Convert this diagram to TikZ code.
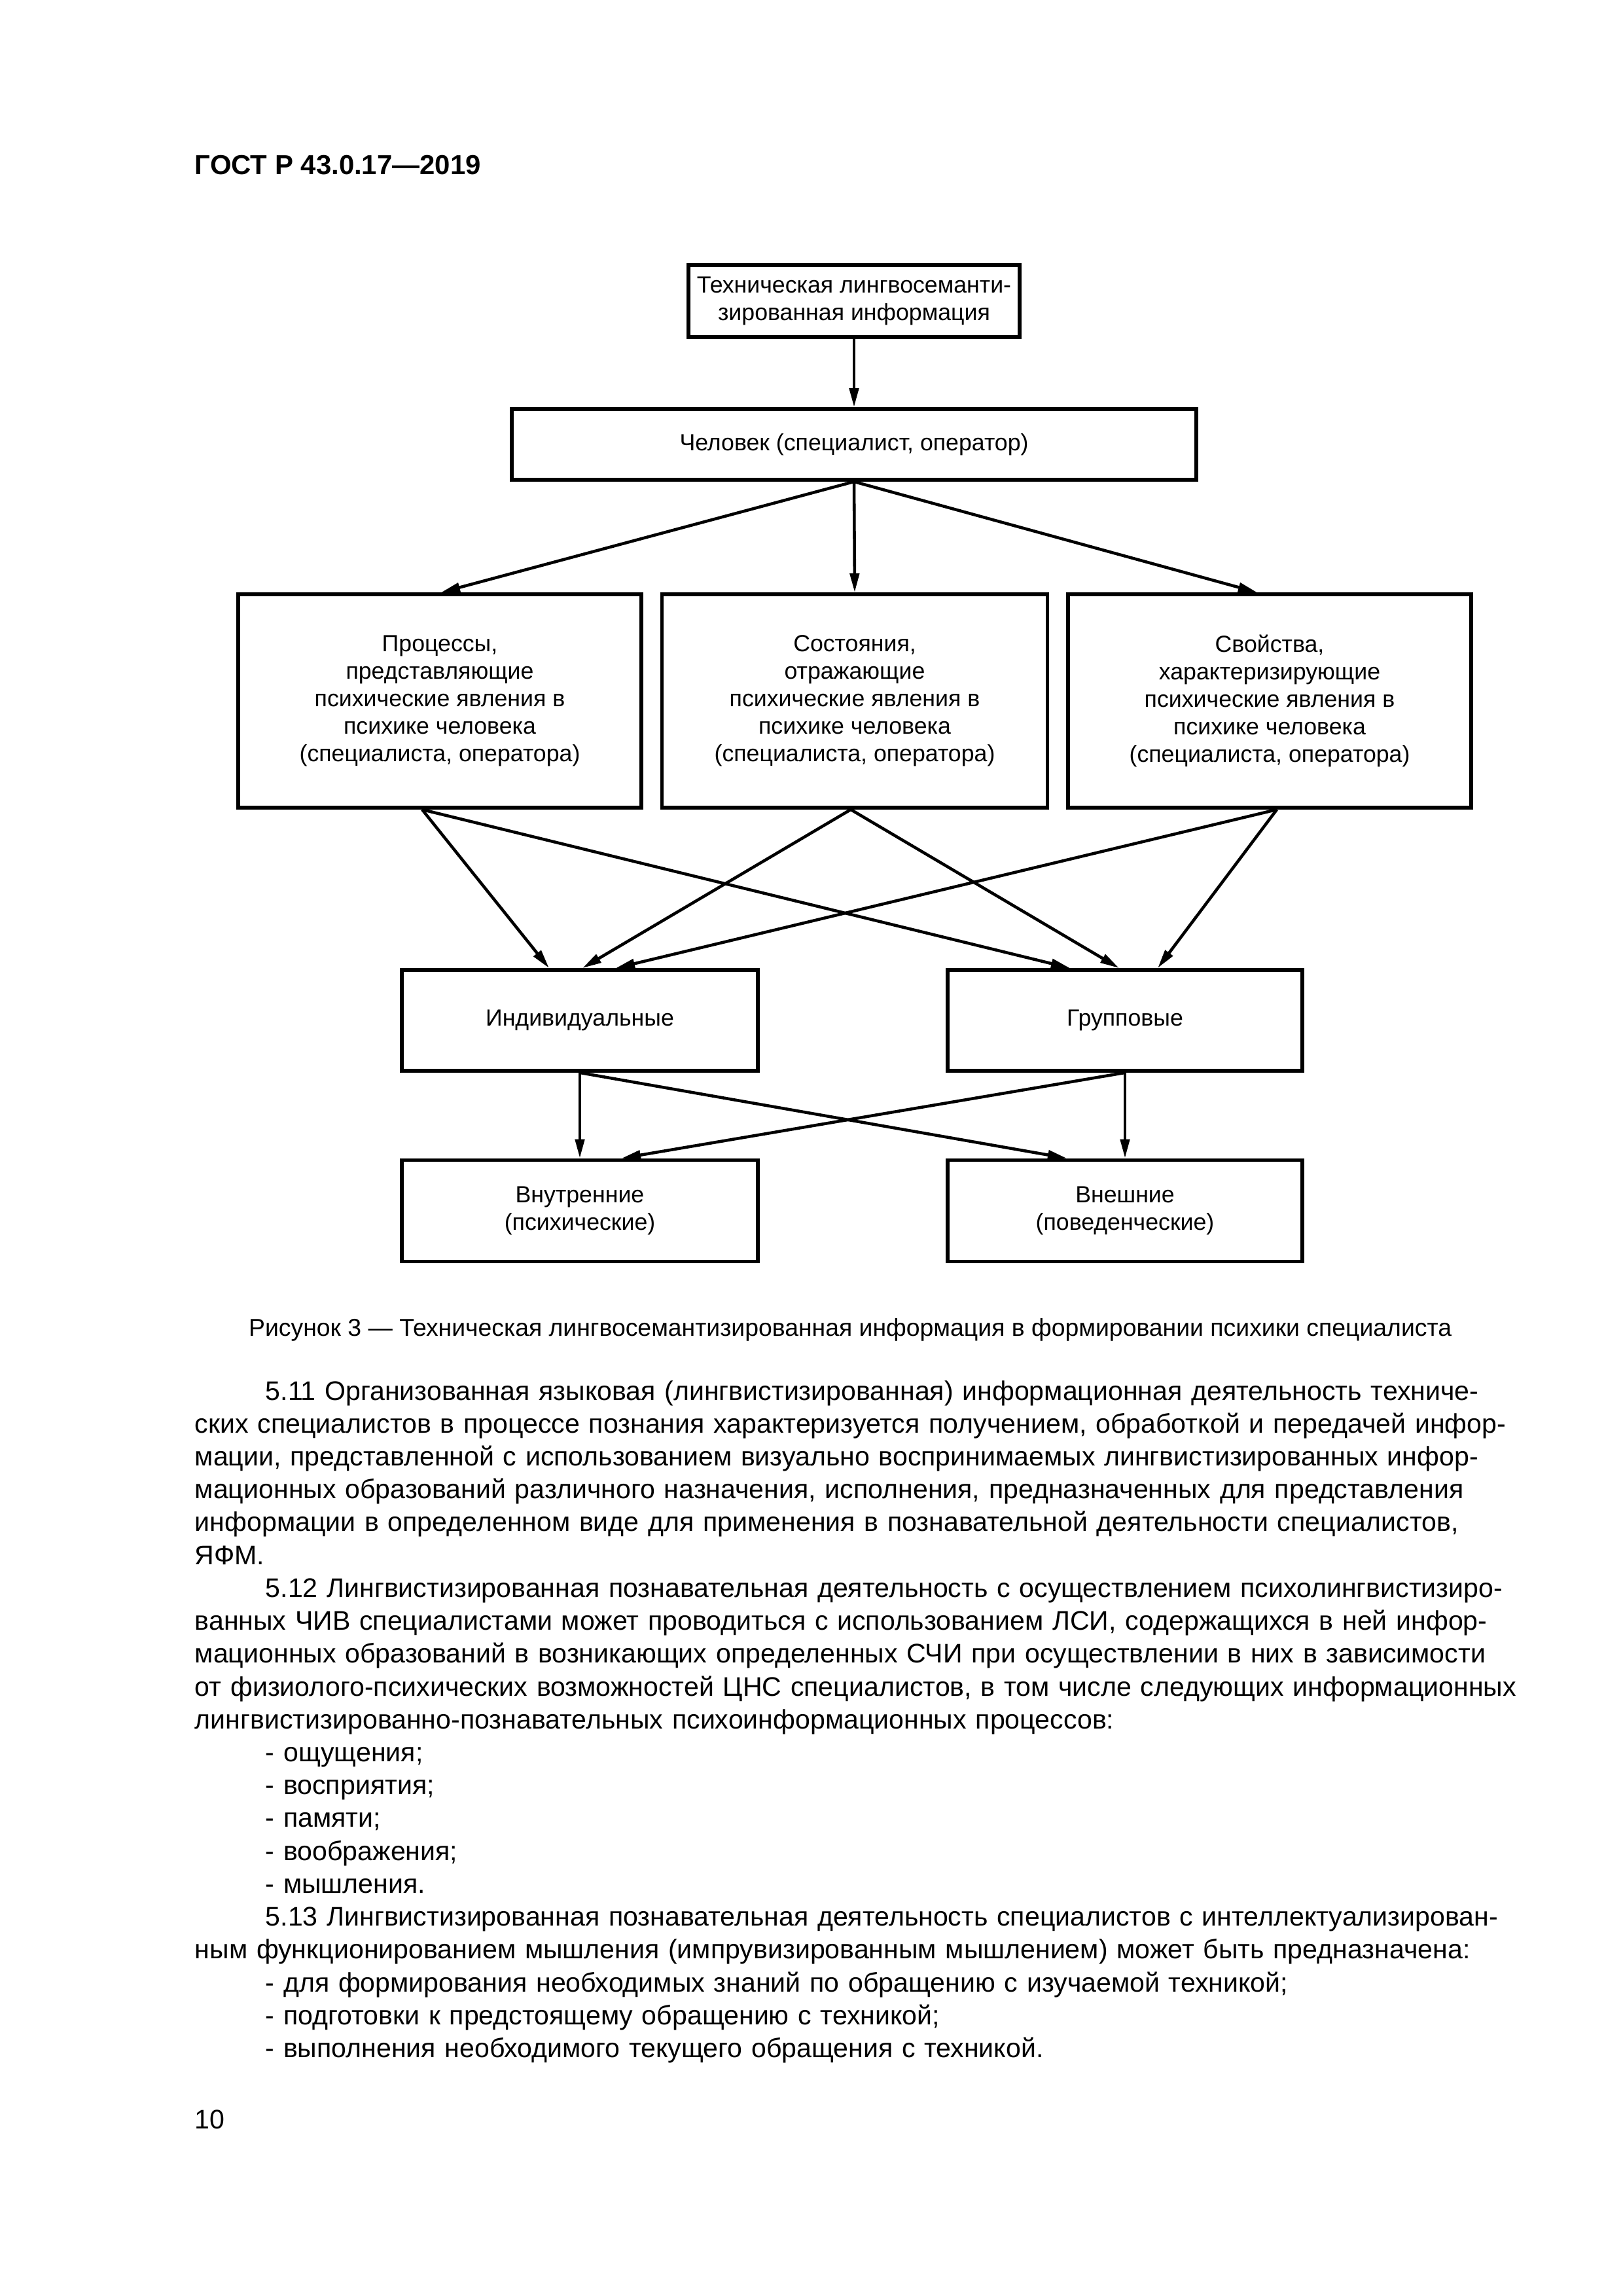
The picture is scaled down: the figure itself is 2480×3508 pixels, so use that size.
\documentclass[tikz,border=0pt]{standalone}
\usepackage{fontspec}
\setmainfont{Liberation Sans}
\usetikzlibrary{arrows.meta,calc}
\newcommand\fl[1]{\makebox[\linewidth][s]{#1}}
\newcommand\px{*0.0846774mm}
\newlength\pind
\setlength\pind{9.14mm}
\begin{document}
\begin{tikzpicture}[x=0.0846774mm, y=-0.0846774mm,
  box/.style={draw, line width=1.4pt, inner sep=0pt, align=center,
    font=\fontsize{8.6}{10.1}\selectfont},
  arr/.style={-{Triangle[length=7pt,width=3.4pt]}, line width=1.1pt}]
\fill[white] (0,0) rectangle (2480,3508);
\useasboundingbox (0,0) rectangle (2480,3508);
% header
\node[anchor=base west, inner sep=0pt, font=\fontsize{10.1}{12}\selectfont\bfseries] (header) at (297,266) {ГОСТ Р 43.0.17—2019};
% boxes
\node[box, minimum width=506\px, minimum height=110\px] (top) at (1305,460) {Техническая лингвосеманти-\\зированная информация};
\node[box, minimum width=1046\px, minimum height=108\px] (man) at (1305,679) {Человек (специалист, оператор)};
\node[box, minimum width=616\px, minimum height=326\px] (b1) at (672,1071) {Процессы,\\представляющие\\психические явления в\\психике человека\\(специалиста, оператора)};
\node[box, minimum width=589\px, minimum height=326\px] (b2) at (1306,1071) {Состояния,\\отражающие\\психические явления в\\психике человека\\(специалиста, оператора)};
\node[box, minimum width=616\px, minimum height=326\px] (b3) at (1940,1071) {Свойства,\\характеризирующие\\психические явления в\\психике человека\\(специалиста, оператора)};
\node[box, minimum width=544\px, minimum height=154\px] (ind) at (886,1559) {Индивидуальные};
\node[box, minimum width=542\px, minimum height=154\px] (grp) at (1719,1559) {Групповые};
\node[box, minimum width=544\px, minimum height=155\px] (vin) at (886,1850) {Внутренние\\(психические)};
\node[box, minimum width=542\px, minimum height=155\px] (vex) at (1719,1850) {Внешние\\(поведенческие)};
% connectors
\draw[arr] (top.south) -- (man.north);
\draw[arr] (man.south) -- ($(b1.north)+(2,0)$);
\draw[arr] (man.south) -- (b2.north);
\draw[arr] (man.south) -- ($(b3.north)+(-19,0)$);
\coordinate (s1) at ($(b1.south)+(-27,0)$);
\coordinate (s2) at ($(b2.south)+(-6,0)$);
\coordinate (s3) at ($(b3.south)+(11,0)$);
\draw[arr] (s1) -- ($(ind.north)+(-47,0)$);
\draw[arr] (s1) -- ($(grp.north)+(-84,0)$);
\draw[arr] (s2) -- ($(ind.north)+(4,0)$);
\draw[arr] (s2) -- ($(grp.north)+(-9,0)$);
\draw[arr] (s3) -- ($(ind.north)+(55,0)$);
\draw[arr] (s3) -- ($(grp.north)+(50,0)$);
\draw[arr] (ind.south) -- (vin.north);
\draw[arr] (ind.south) -- ($(vex.north)+(-89,0)$);
\draw[arr] (grp.south) -- ($(vin.north)+(64,0)$);
\draw[arr] (grp.south) -- (vex.north);
% caption
\node[anchor=base, inner sep=0pt, font=\fontsize{9}{11}\selectfont] (caption) at (1299,2041) {Рисунок 3 — Техническая лингвосемантизированная информация в формировании психики специалиста};
% body
\node[anchor=base west, inner sep=0pt, text width=169.69mm, align=left, font=\fontsize{9.9}{12.1}\selectfont] (body) at (297,2139) {%
\fl{\hspace*{\pind}5.11 Организованная языковая (лингвистизированная) информационная деятельность техниче-}\\
\fl{ских специалистов в процессе познания характеризуется получением, обработкой и передачей инфор-}\\
\fl{мации, представленной с использованием визуально воспринимаемых лингвистизированных инфор-}\\
\fl{мационных образований различного назначения, исполнения, предназначенных для представления}\\
\fl{информации в определенном виде для применения в познавательной деятельности специалистов,}\\
ЯФМ.\\
\fl{\hspace*{\pind}5.12 Лингвистизированная познавательная деятельность с осуществлением психолингвистизиро-}\\
\fl{ванных ЧИВ специалистами может проводиться с использованием ЛСИ, содержащихся в ней инфор-}\\
\fl{мационных образований в возникающих определенных СЧИ при осуществлении в них в зависимости}\\
\fl{от физиолого-психических возможностей ЦНС специалистов, в том числе следующих информационных}\\
лингвистизированно-познавательных психоинформационных процессов:\\
\hspace*{\pind}- ощущения;\\
\hspace*{\pind}- восприятия;\\
\hspace*{\pind}- памяти;\\
\hspace*{\pind}- воображения;\\
\hspace*{\pind}- мышления.\\
\fl{\hspace*{\pind}5.13 Лингвистизированная познавательная деятельность специалистов с интеллектуализирован-}\\
ным функционированием мышления (импрувизированным мышлением) может быть предназначена:\\
\hspace*{\pind}- для формирования необходимых знаний по обращению с изучаемой техникой;\\
\hspace*{\pind}- подготовки к предстоящему обращению с техникой;\\
\hspace*{\pind}- выполнения необходимого текущего обращения с техникой.};
% page number
\node[anchor=base west, inner sep=0pt, font=\fontsize{9.9}{12}\selectfont] (pnum) at (297,3252) {10};
\end{tikzpicture}
\end{document}
